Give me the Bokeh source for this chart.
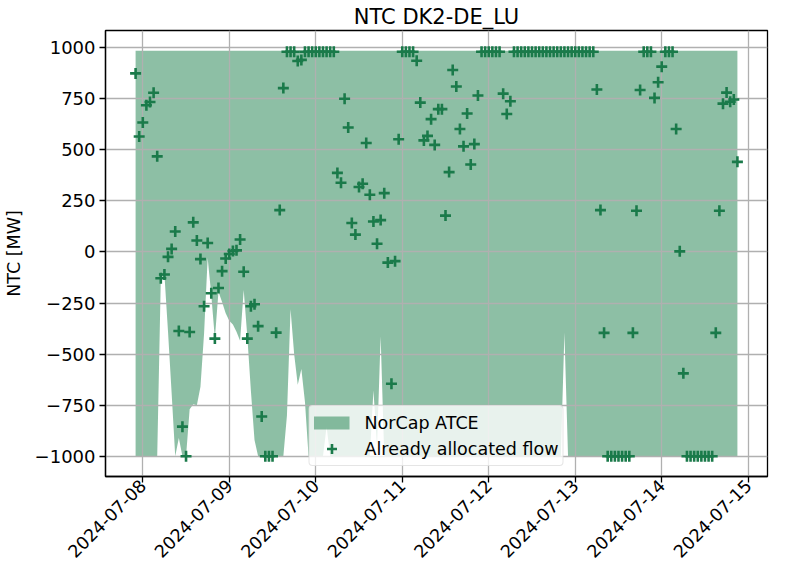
import pandas as pd
from math import pi
from bokeh.plotting import figure
from bokeh.models import (Range1d, FixedTicker, DatetimeTickFormatter, Legend,
                          LegendItem)
from bokeh.embed import file_html
from bokeh.resources import INLINE

# ---------------- data (hourly, UTC) ----------------
start_time = "2024-07-07 22:00"
n_hours = 168

# Already allocated flow [MW]
flow = ([874, 565, 634, 718, 734, 779, 468, -129, -110, -24,
         15, 100, -387, -855, -1000, -392, 145, 56, -35, -266,
         44, -202, -424, -176, -94, -32, -10, 5, 8, 61,
         -97, -424, -266, -256, -363, -805, -1000, -1000, -1000, -395,
         205, 802, 980, 980, 980, 935, 940]
        + [980] * 9
        + [387, 339, 750, 609, 142, 85, 318, 334, 533, 280,
           149, 40, 156, 288, -52, -645, -45, 552]
        + [980] * 4
        + [936, 731, 546, 568, 650, 524, 699, 699, 178, 391,
           891, 810, 602, 517, 678, 428, 528, 766]
        + [980] * 6
        + [775, 675, 738]
        + [980] * 23
        + [795, 205, -396]
        + [-1000] * 7
        + [-396, 202, 793]
        + [980] * 3
        + [754, 831, 907]
        + [980] * 3
        + [602, 3, -594]
        + [-1000] * 8
        + [-396, 202, 726, 780, 735, 746, 441])

# NorCap ATCE band: lower and upper bound [MW]
atce_lower = ([-1000] * 7
              + [-129, -110, -390, -690, -1000, -910, -1000, -1000, -770,
                 -745, -750, -660, -400, -30, -210, -424, -195, -245, -300,
                 -337, -355, -390, -435, -186, -412, -680, -920]
              + [-1000] * 8
              + [-800, -280, -500, -650, -573, -734]
              + [-1000] * 5
              + [-855]
              + [-1000] * 12
              + [-678, -950, -412]
              + [-1000] * 50
              + [-396]
              + [-1000] * 48)
atce_upper = [985] * n_hours

y_ticks = [-1000, -750, -500, -250, 0, 250, 500, 750, 1000]
x_tick_days = ["2024-07-08", "2024-07-09", "2024-07-10", "2024-07-11",
               "2024-07-12", "2024-07-13", "2024-07-14", "2024-07-15"]

times = pd.date_range(start_time, periods=n_hours, freq="h")

FONT = "DejaVu Sans"
AREA = "#1c7f4c"
MARK = "#1a7a4a"

pad = pd.Timedelta(hours=8.35)
p = figure(width=769, height=566, x_axis_type="datetime",
           x_range=Range1d(times[0] - pad, times[-1] + pad),
           y_range=Range1d(-1099, 1084),
           output_backend="svg", toolbar_location=None,
           min_border_left=93, min_border_right=2,
           min_border_top=20, min_border_bottom=0)

area = p.varea(x=times, y1=atce_lower, y2=atce_upper, fill_color=AREA,
               fill_alpha=0.5, level="image")
pts = p.scatter(x=times, y=flow, marker="cross", size=11, line_width=2.6,
                line_color=MARK)
# legend swatch for the band (a thick bar, as in the reference legend)
swatch = p.line(x=[times[0]], y=[float("nan")], line_color=AREA, line_alpha=0.5,
                line_width=13, line_cap="butt")

# title
p.title.text = "NTC DK2-DE_LU"
p.title.align = "center"
p.title.text_font = FONT
p.title.text_font_size = "21px"
p.title.text_font_style = "normal"
p.title.text_color = "black"
p.title.standoff = 4

# axes
p.xaxis.ticker = FixedTicker(ticks=[pd.Timestamp(d).value / 1e6 for d in x_tick_days])
fmt = "%Y-%m-%d"
p.xaxis.formatter = DatetimeTickFormatter(days=fmt, months=fmt, hours=fmt,
                                          years=fmt, hourmin=fmt, minutes=fmt)
p.xaxis.major_label_orientation = pi / 4
p.yaxis.ticker = FixedTicker(ticks=y_ticks)
p.yaxis.major_label_overrides = {v: str(v).replace("-", "\u2212") for v in y_ticks}
p.yaxis.axis_label = "NTC [MW]"

for ax in (p.xaxis, p.yaxis):
    ax.major_label_text_font = FONT
    ax.major_label_text_font_size = "18px"
    ax.major_label_text_color = "black"
    ax.axis_label_text_font = FONT
    ax.axis_label_text_font_size = "17.5px"
    ax.axis_label_text_font_style = "normal"
    ax.axis_label_text_color = "black"
    ax.axis_line_color = "black"
    ax.axis_line_width = 1.3
    ax.major_tick_line_color = "black"
    ax.major_tick_line_width = 1.3
    ax.major_tick_out = 6
    ax.major_tick_in = 0
    ax.minor_tick_line_color = None
    ax.major_label_standoff = 4
p.xaxis.major_label_text_font_size = "17.5px"
p.xaxis.major_label_standoff = 0
p.yaxis.axis_label_standoff = 8

p.grid.grid_line_color = "#b0b0b0"
p.grid.grid_line_width = 1.3
p.outline_line_color = "black"
p.outline_line_width = 1.3
p.background_fill_color = "white"

legend = Legend(items=[LegendItem(label="NorCap ATCE", renderers=[swatch]),
                       LegendItem(label="Already allocated flow", renderers=[pts])],
                location="bottom_center")
legend.label_text_font = FONT
legend.label_text_font_size = "17.5px"
legend.label_text_color = "black"
legend.background_fill_alpha = 0.8
legend.border_line_color = "#cccccc"
legend.border_line_width = 1
legend.border_radius = 4
legend.padding = 4
legend.spacing = 1
legend.glyph_width = 36
legend.glyph_height = 25
legend.label_height = 20
legend.label_standoff = 15
legend.margin = 10
p.add_layout(legend)

open("out.html", "w").write(file_html(p, INLINE))
